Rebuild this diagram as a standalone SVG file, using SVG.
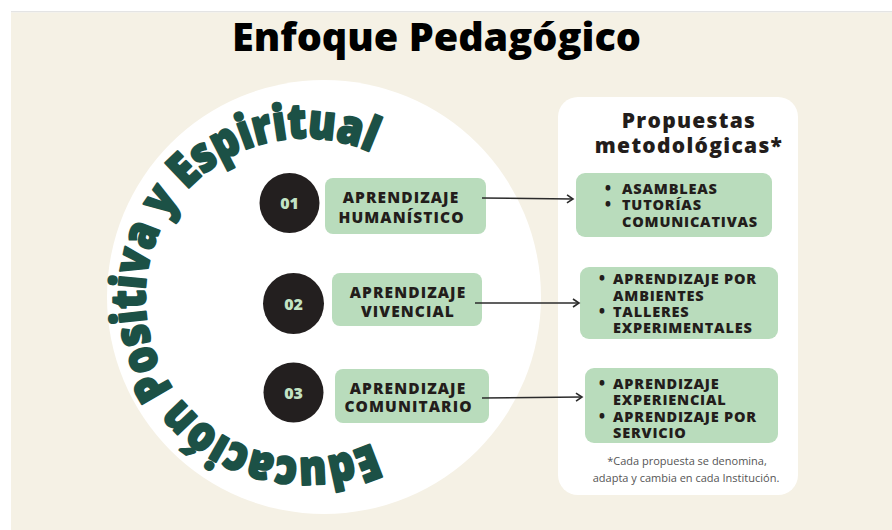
<svg xmlns="http://www.w3.org/2000/svg" width="892" height="530" viewBox="0 0 892 530">
<defs>
<style>
.bg{fill:#f5f1e5}
.num{fill:#c3e3c4;font-family:"Open Sans","DejaVu Sans",sans-serif;font-weight:800;font-size:16px;text-anchor:middle}
.dot{fill:#231f1f}
.box{fill:#b9dcbc}
.bt{fill:#231d1b;font-family:"Open Sans","DejaVu Sans",sans-serif;font-weight:800;font-size:15.5px;letter-spacing:1.1px;text-anchor:middle}
.rt{fill:#231d1b;font-family:"Open Sans","DejaVu Sans",sans-serif;font-weight:800;font-size:14.5px;letter-spacing:0.8px}
.bul{fill:#231d1b;font-family:"Open Sans","DejaVu Sans",sans-serif;font-weight:800;font-size:15px;text-anchor:middle}
.ht{fill:#231d1b;font-family:"Open Sans","DejaVu Sans",sans-serif;font-weight:800;font-size:21px;letter-spacing:1.3px;text-anchor:middle}
.fn{fill:#555;font-family:"Open Sans","DejaVu Sans",sans-serif;font-size:11px;text-anchor:middle}
.conn{stroke:#2b2b2b;stroke-width:1.5;fill:none}
</style>
<marker id="arr" markerUnits="userSpaceOnUse" markerWidth="12" markerHeight="12" refX="8" refY="5" orient="auto">
<path d="M2,1 L8,5 L2,9" fill="none" stroke="#2b2b2b" stroke-width="1.6"/>
</marker>
<path id="arc" d="M385,436.6 A160,160 0 1 1 385,159.4"/>
</defs>
<rect x="0" y="0" width="892" height="530" fill="#ffffff"/>
<rect x="11" y="11" width="881" height="1.5" fill="#e4e4e4"/>
<rect class="bg" x="11" y="12.5" width="881" height="517.5"/>
<text x="436.5" y="51" font-family="'Open Sans','DejaVu Sans',sans-serif" font-weight="800" font-size="39" fill="#000" text-anchor="middle" textLength="409" lengthAdjust="spacingAndGlyphs">Enfoque Pedagógico</text>
<g id="hub">
<circle cx="324" cy="297" r="217" fill="#ffffff"/>
<text font-family="'Open Sans','DejaVu Sans',sans-serif" font-weight="800" font-size="48" fill="#1c5146" stroke="#1c5146" stroke-width="2.2" stroke-linejoin="round"><textPath href="#arc" startOffset="14" textLength="640" lengthAdjust="spacingAndGlyphs">Educación Positiva y Espiritual</textPath></text>
</g>
<g id="n1">
<circle class="dot" cx="289.5" cy="203" r="30"/>
<text class="num" x="289.5" y="209">01</text>
<rect class="box" x="325" y="178" width="161" height="56" rx="8"/>
<text class="bt" x="401" y="203">APRENDIZAJE</text>
<text class="bt" x="401.5" y="223">HUMANÍSTICO</text>
</g>
<g id="n2">
<circle class="dot" cx="293.5" cy="303.5" r="30.5"/>
<text class="num" x="293.5" y="309.5">02</text>
<rect class="box" x="332" y="273" width="150" height="53" rx="8"/>
<text class="bt" x="408" y="298">APRENDIZAJE</text>
<text class="bt" x="408" y="317">VIVENCIAL</text>
</g>
<g id="n3">
<circle class="dot" cx="293.5" cy="392.5" r="30"/>
<text class="num" x="293.5" y="398.5">03</text>
<rect class="box" x="335" y="369" width="154" height="54" rx="8"/>
<text class="bt" x="408" y="394">APRENDIZAJE</text>
<text class="bt" x="408.5" y="412">COMUNITARIO</text>
</g>
<g id="panel">
<rect x="558" y="97" width="240" height="398" rx="20" fill="#ffffff"/>
<text class="ht" x="689" y="128">Propuestas</text>
<text class="ht" x="689" y="153">metodológicas*</text>
<text class="fn" x="687" y="465">*Cada propuesta se denomina,</text>
<text class="fn" x="686" y="482">adapta y cambia en cada Institución.</text>
</g>
<g id="m1">
<rect class="box" x="576" y="173" width="196" height="64" rx="9"/>
<text class="bul" x="608" y="194">•</text>
<text class="bul" x="608" y="210">•</text>
<text class="rt" x="622" y="194">ASAMBLEAS</text>
<text class="rt" x="622" y="210">TUTORÍAS</text>
<text class="rt" x="622" y="227">COMUNICATIVAS</text>
</g>
<g id="m2">
<rect class="box" x="580" y="267" width="198" height="72" rx="9"/>
<text class="bul" x="602" y="284">•</text>
<text class="bul" x="602" y="317">•</text>
<text class="rt" x="613" y="284">APRENDIZAJE POR</text>
<text class="rt" x="613" y="301">AMBIENTES</text>
<text class="rt" x="613" y="317">TALLERES</text>
<text class="rt" x="613" y="333">EXPERIMENTALES</text>
</g>
<g id="m3">
<rect class="box" x="585" y="368" width="193" height="75" rx="9"/>
<text class="bul" x="602" y="389">•</text>
<text class="bul" x="602" y="422">•</text>
<text class="rt" x="613" y="389">APRENDIZAJE</text>
<text class="rt" x="613" y="405">EXPERIENCIAL</text>
<text class="rt" x="613" y="422">APRENDIZAJE POR</text>
<text class="rt" x="613" y="438">SERVICIO</text>
</g>
<g id="connectors">
<line class="conn" x1="482" y1="198" x2="573" y2="199" marker-end="url(#arr)"/>
<line class="conn" x1="475" y1="303" x2="579" y2="303" marker-end="url(#arr)"/>
<line class="conn" x1="482" y1="398" x2="582" y2="397" marker-end="url(#arr)"/>
</g>
</svg>
